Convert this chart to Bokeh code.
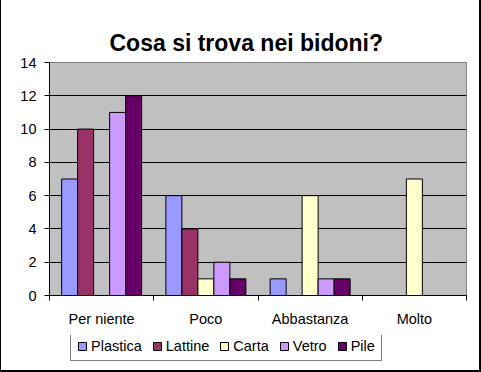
from bokeh.plotting import figure
from bokeh.layouts import column
from bokeh.models import Range1d, FixedTicker, Legend, LegendItem, Title
from bokeh.embed import file_html
from bokeh.resources import INLINE

categories = ["Per niente", "Poco", "Abbastanza", "Molto"]
series_names = ["Plastica", "Lattine", "Carta", "Vetro", "Pile"]
plastica = [7, 6, 1, 0]
lattine = [10, 4, 0, 0]
carta = [0, 1, 6, 7]
vetro = [11, 2, 1, 0]
pile = [12, 1, 1, 0]
y_ticks = [0, 2, 4, 6, 8, 10, 12, 14]

series_values = [plastica, lattine, carta, vetro, pile]
colors = ["#9999FF", "#993366", "#FFFFCC", "#CC99FF", "#660066"]
FONT = "Liberation Sans"

p = figure(frame_width=417, frame_height=233, output_backend="svg", toolbar_location=None,
           x_range=Range1d(0, len(categories)), y_range=Range1d(0, 14),
           min_border_left=48, min_border_right=13, min_border_top=62, min_border_bottom=40,
           background_fill_color="white", border_fill_color="white")
p.title = Title(text="Cosa si trova nei bidoni?", align="left", offset=60,
                text_font=FONT, text_font_size="23px", text_font_style="bold",
                text_color="black", standoff=14)
p.background_fill_color = "#C0C0C0"
p.outline_line_color = "#808080"
p.outline_line_width = 1

bw = 16 / 104.25
for j, (name, vals, col) in enumerate(zip(series_names, series_values, colors)):
    xs = [i + 0.5 + (j - 2) * bw for i in range(len(categories))]
    p.vbar(x=xs, top=vals, width=bw, bottom=0, fill_color=col,
           line_color="black", line_width=1)

# y axis
p.yaxis.ticker = FixedTicker(ticks=y_ticks)
p.yaxis.axis_line_color = "black"
p.yaxis.major_tick_in = 0
p.yaxis.major_tick_out = 5
p.yaxis.minor_tick_line_color = None
p.yaxis.major_label_standoff = 8
p.yaxis.major_label_text_font = FONT
p.yaxis.major_label_text_font_size = "14.5px"
p.yaxis.major_label_text_color = "black"

p.ygrid.ticker = FixedTicker(ticks=y_ticks[1:-1])
p.ygrid.grid_line_color = "black"
p.ygrid.grid_line_width = 1
p.xgrid.grid_line_color = None

# x axis: labels at centres, ticks at boundaries
p.xaxis.ticker = FixedTicker(ticks=[i + 0.5 for i in range(len(categories))],
                             minor_ticks=list(range(len(categories) + 1)))
p.xaxis.major_label_overrides = {i + 0.5: c for i, c in enumerate(categories)}
p.xaxis.major_tick_line_color = None
p.xaxis.major_tick_out = 4
p.xaxis.major_tick_in = 0
p.xaxis.minor_tick_out = 5
p.xaxis.minor_tick_in = 0
p.xaxis.minor_tick_line_color = "black"
p.xaxis.axis_line_color = "black"
p.xaxis.major_label_standoff = 10
p.xaxis.major_label_text_font = FONT
p.xaxis.major_label_text_font_size = "14.5px"
p.xaxis.major_label_text_color = "black"

# legend strip below the chart
lf = figure(width=478, height=35, output_backend="svg", toolbar_location=None,
            x_axis_location=None, y_axis_location=None, min_border=0,
            x_range=Range1d(0, 1), y_range=Range1d(0, 1),
            background_fill_color="white", border_fill_color="white")
lf.outline_line_color = None
lf.xgrid.grid_line_color = None
lf.ygrid.grid_line_color = None
items = []
for name, col in zip(series_names, colors):
    # legend swatch renderers, data kept outside the visible range
    r = lf.vbar(x=[-5], top=[-5], bottom=[-6], width=0.1, fill_color=col,
                line_color="black", line_width=1)
    items.append(LegendItem(label=name, renderers=[r]))

legend = Legend(items=items, orientation="horizontal", location=(21, 9),
                label_text_font=FONT, label_text_font_size="14.5px",
                label_text_color="black", glyph_width=10, glyph_height=10,
                label_standoff=4, spacing=10, padding=6, margin=0,
                border_line_color="black", border_line_width=1,
                background_fill_color="white", background_fill_alpha=1,
                label_height=14)
lf.add_layout(legend)

layout = column(p, lf, spacing=0,
                styles={"border-left": "1px solid black", "border-right": "2px solid black",
                        "border-bottom": "2px solid black"})

open("out.html", "w").write(file_html(layout, INLINE))
